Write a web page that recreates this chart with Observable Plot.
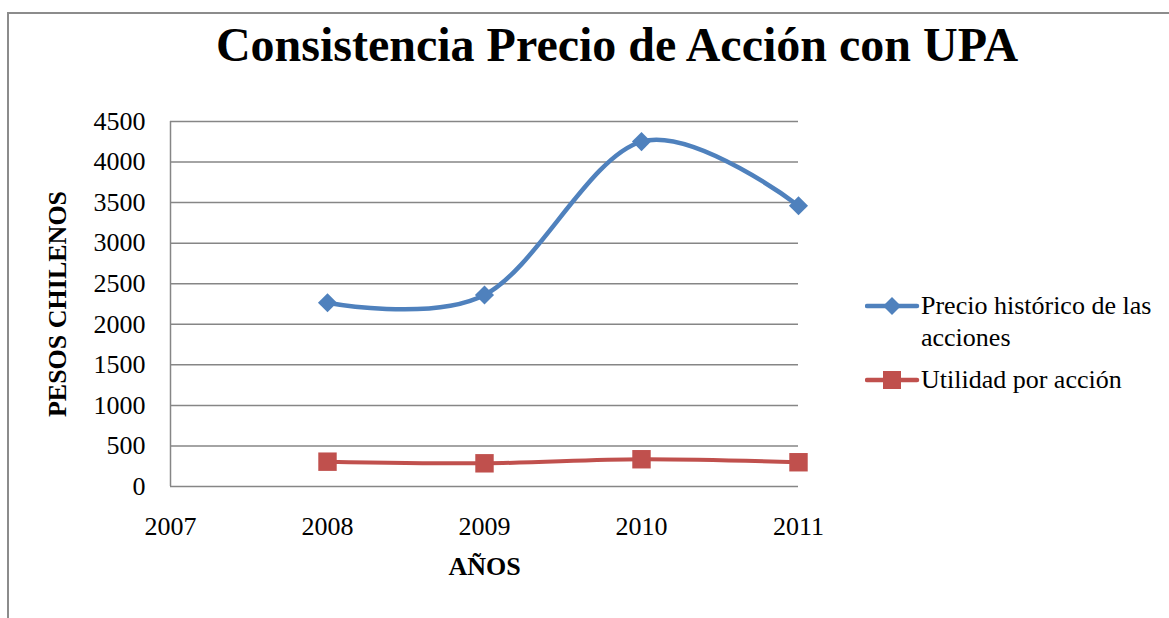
<!DOCTYPE html>
<html>
<head>
<meta charset="utf-8">
<script src="https://cdn.jsdelivr.net/npm/d3@7"></script>
<script src="https://cdn.jsdelivr.net/npm/@observablehq/plot@0.6"></script>
<style>
  html, body { margin: 0; padding: 0; background: #fff; }
  #wrap { position: relative; width: 1169px; height: 618px; overflow: hidden;
          font-family: "Liberation Serif", "Times New Roman", serif; color: #000; }
  #frame { position: absolute; left: 7px; top: 12px; width: 1200px; height: 700px;
           border-left: 2px solid #8c8c8c; border-top: 2px solid #8c8c8c; }
  #title { position: relative; height: 100px; }
  #title div { position: absolute; left: 117px; width: 1000px; top: 21px; text-align: center;
               font-size: 48px; line-height: 48px; font-weight: bold; white-space: nowrap; }
  #chart svg { display: block; }
  #chart g[aria-label="y-axis label"] text, #chart g[aria-label="x-axis label"] text { font-weight: bold; }
  .leg { position: absolute; left: 865px; font-size: 26px; line-height: 32px; display: flex; align-items: flex-start; }
  .leg svg { flex: none; margin-top: 4px; }
  .leg span { width: 245px; display: block; }
</style>
</head>
<body>
<div id="wrap">
  <div id="frame"></div>
  <div id="title"><div></div></div>
  <div id="chart"></div>
  <div id="legend"></div>
</div>
<script>
const titleText = "Consistencia Precio de Acción con UPA";
const yLabel = "PESOS CHILENOS";
const xLabel = "AÑOS";
const years = [2008, 2009, 2010, 2011];
const precio = [2266, 2361, 4252, 3462];
const upa = [306, 286, 336, 299];
const xTicks = [2007, 2008, 2009, 2010, 2011];
const yTicks = [0, 500, 1000, 1500, 2000, 2500, 3000, 3500, 4000, 4500];
const seriesNames = ["Precio histórico de las acciones", "Utilidad por acción"];
const colors = ["#4F81BD", "#C0504D"];

document.querySelector("#title div").textContent = titleText;

const dPrecio = years.map((y, i) => ({year: y, value: precio[i]}));
const dUpa = years.map((y, i) => ({year: y, value: upa[i]}));

const chart = Plot.plot({
  width: 1169,
  height: 518,
  marginTop: 21,
  marginBottom: 132,
  marginLeft: 170,
  marginRight: 371,
  style: {fontFamily: '"Liberation Serif", "Times New Roman", serif', fontSize: "26px", color: "#000", background: "transparent"},
  x: {type: "linear", domain: [2007, 2011]},
  y: {domain: [0, 4500]},
  marks: [
    Plot.gridY(yTicks, {stroke: "#868686", strokeOpacity: 1, strokeWidth: 1.5}),
    Plot.ruleX([2007], {stroke: "#868686", strokeWidth: 1.5}),
    Plot.axisY(yTicks, {tickSize: 0, tickPadding: 25, fontSize: 26, tickFormat: d => String(d), label: yLabel, labelAnchor: "center", labelOffset: 123, labelArrow: "none"}),
    Plot.axisX(xTicks, {tickSize: 0, tickPadding: 30, fontSize: 26, tickFormat: d => String(d), label: xLabel, labelAnchor: "center", labelOffset: 88, labelArrow: "none"}),
    Plot.line(dPrecio, {x: "year", y: "value", stroke: colors[0], strokeWidth: 4.5, curve: "cardinal"}),
    Plot.line(dUpa, {x: "year", y: "value", stroke: colors[1], strokeWidth: 4, curve: "cardinal"}),
    Plot.dot(dPrecio, {x: "year", y: "value", symbol: "diamond2", r: 8.6, fill: colors[0], stroke: "none"}),
    Plot.dot(dUpa, {x: "year", y: "value", symbol: "square", r: 10.4, fill: colors[1], stroke: "none"})
  ]
});
document.getElementById("chart").appendChild(chart);

// legend
const legend = document.getElementById("legend");
const legTops = [290, 364];
const symbols = [
  '<polygon points="27,3 36,12 27,21 18,12" />',
  '<rect x="18" y="3" width="18" height="18" />'
];
seriesNames.forEach((name, i) => {
  const div = document.createElement("div");
  div.className = "leg";
  div.style.top = legTops[i] + "px";
  div.innerHTML = `<svg width="56" height="24" viewBox="0 0 56 24"><line x1="2" y1="12" x2="52" y2="12" stroke="${colors[i]}" stroke-width="4.5" stroke-linecap="round"/><g fill="${colors[i]}">${symbols[i]}</g></svg><span></span>`;
  div.querySelector("span").textContent = name;
  legend.appendChild(div);
});
</script>
</body>
</html>
